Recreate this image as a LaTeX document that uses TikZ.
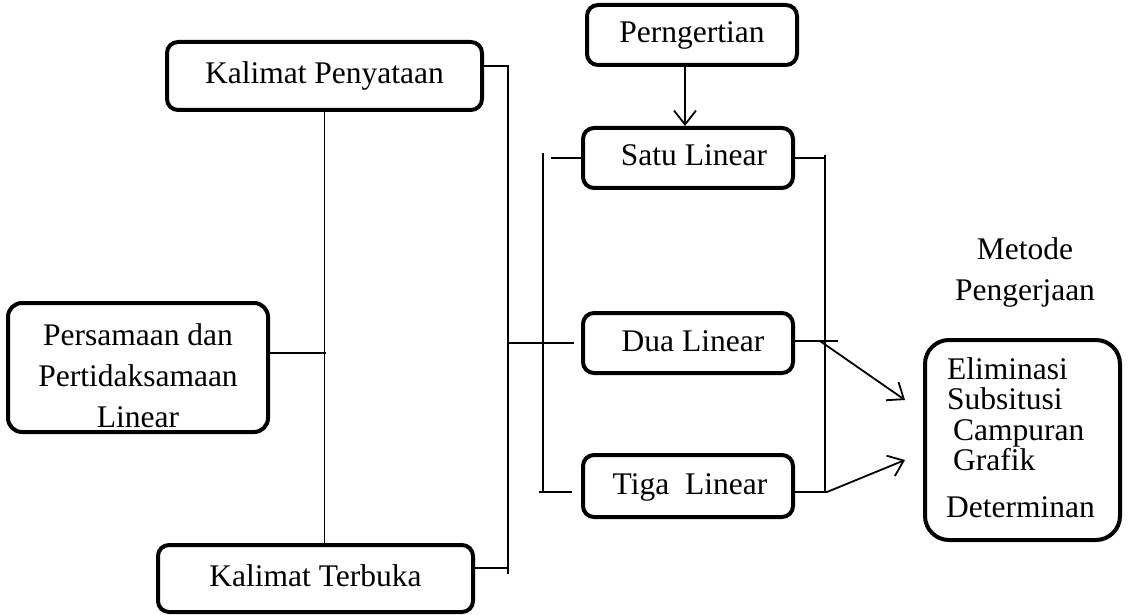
\documentclass[tikz,border=0pt]{standalone}
\usepackage{fontspec}
\setmainfont{Liberation Serif}
\usetikzlibrary{arrows.meta}
\begin{document}
\begin{tikzpicture}[x=1pt,y=-1pt,
  font=\fontsize{31.5}{41}\selectfont,
  box/.style={draw, line width=4pt, rounded corners=11pt, inner sep=0pt, text height=22pt, text depth=6pt},
  mlbox/.style={draw, line width=4pt, rounded corners=14pt, inner sep=0pt, align=center},
  conn/.style={line width=1.8pt},
  arr/.style={line width=1.8pt, -{Straight Barb[length=14pt,width=22pt]}},
  lbl/.style={inner sep=0pt}]
\useasboundingbox (0,0) rectangle (1128,615);

% boxes
\node[box, minimum width=315pt, minimum height=68pt] (kp) at (324.5,76) {Kalimat Penyataan};
\node[box, minimum width=315pt, minimum height=67pt] (kt) at (315.5,578.5) {Kalimat Terbuka};
\node[mlbox, minimum width=260pt, minimum height=129pt] (ps) at (138,367.5) {\rule{0pt}{38pt}Persamaan dan\\Pertidaksamaan\\Linear};
\node[box, minimum width=210pt, minimum height=60pt] (pg) at (692,35) {Perngertian};
\node[box, minimum width=210pt, minimum height=60pt] (s1) at (688,158) {\hspace*{12pt}Satu Linear};
\node[box, minimum width=210pt, minimum height=60pt] (s2) at (688,343) {\hspace*{10pt}Dua Linear};
\node[box, minimum width=210pt, minimum height=62pt] (s3) at (688,486) {\hspace*{4pt}Tiga\ \ Linear};
\node[draw, line width=4pt, rounded corners=24pt, minimum width=195pt, minimum height=200pt] (mt) at (1022.5,440) {};

% method texts
\node[lbl, anchor=base west] (m1) at (947,379) {Eliminasi};
\node[lbl, anchor=base west] (m2) at (947,409) {Subsitusi};
\node[lbl, anchor=base west] (m3) at (953,440) {Campuran};
\node[lbl, anchor=base west] (m4) at (953,470) {Grafik};
\node[lbl, anchor=base west] (m5) at (946,517) {Determinan};
\node[lbl, anchor=base] (mh1) at (1025,259) {Metode};
\node[lbl, anchor=base] (mh2) at (1025,300) {Pengerjaan};

% coordinates
\coordinate (b1top) at (508,66);
\coordinate (b1bot) at (508,574);
\coordinate (psj) at (326,353);
\coordinate (b2top) at (543,153);
\coordinate (b2bot) at (543,492);
\coordinate (b3top) at (825,155);
\coordinate (b3bot) at (825,493);
\coordinate (r2) at (838,341);
\coordinate (j2) at (820,341);
\coordinate (r3) at (827,492);
\coordinate (a1) at (905,400);
\coordinate (a2) at (905,460);
\coordinate (ax) at (685,0);

% left structure
\draw[conn] ([yshift=10pt]kp.east) -- (b1top) -- (b1bot);
\draw[conn] ([yshift=10.5pt]kt.east) -| (b1bot);
\draw[conn] (kp.south) -- (kp.south |- kt.north);
\draw[conn] ([yshift=14.5pt]ps.east) -- (psj);

% middle bus
\draw[conn] (s2.west -| b1top) -- ([xshift=-7pt]s2.west);
\draw[conn] (b2top) -- (b2bot);
\draw[conn] ([xshift=-30pt]s1.west) -- (s1.west);
\draw[conn] ([xshift=-4pt]b2bot) -- ([xshift=-9pt,yshift=-6pt]s3.west);

% right bus
\draw[conn] (b3top) -- (b3bot);
\draw[conn] (s1.east) -- (s1.east -| b3top);
\draw[conn] ([yshift=2pt]s2.east) -- (r2);
\draw[conn] ([yshift=-6pt]s3.east) -- (r3);

% arrows
\draw[arr] (pg.south -| ax) -- (s1.north -| ax);
\draw[arr] (j2) -- (a1);
\draw[arr] (r3) -- (a2);
\end{tikzpicture}
\end{document}
